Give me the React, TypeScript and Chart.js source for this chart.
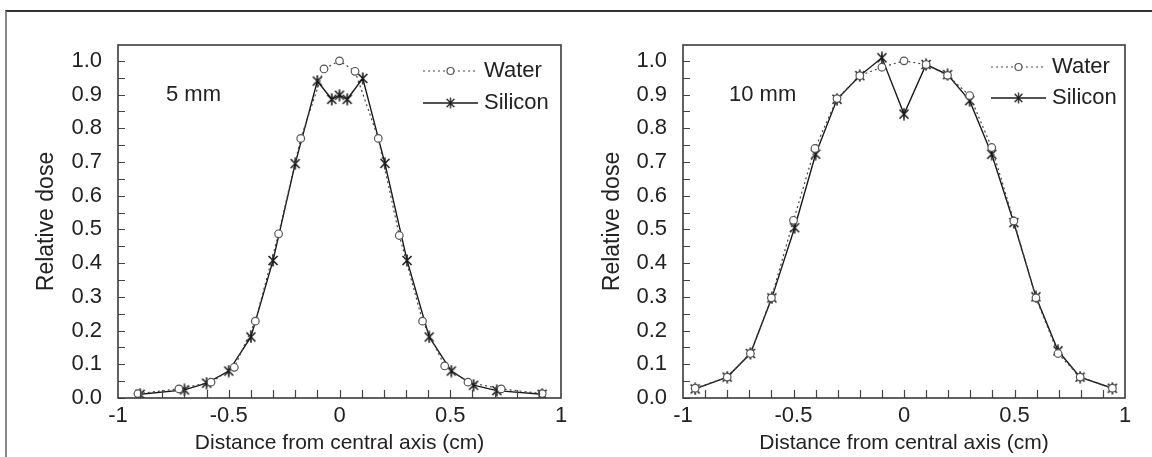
import React, { useEffect, useRef } from "react";
import { Chart, registerables } from "chart.js";

Chart.register(...registerables);

// ---------- data ----------
const seriesNames = ["Water", "Silicon"];
const panelLabels = ["5 mm", "10 mm"];
const xTitle = "Distance from central axis (cm)";
const yTitle = "Relative dose";

const xTickValues = [-1, -0.5, 0, 0.5, 1];
const xTickLabels = ["-1", "-0.5", "0", "0.5", "1"];
const yTickValues = [0, 0.1, 0.2, 0.3, 0.4, 0.5, 0.6, 0.7, 0.8, 0.9, 1.0];
const yTickLabels = ["0.0", "0.1", "0.2", "0.3", "0.4", "0.5", "0.6", "0.7", "0.8", "0.9", "1.0"];

// 5 mm panel
const water5X = [-0.91, -0.725, -0.58, -0.475, -0.38, -0.275, -0.175, -0.07, 0, 0.07, 0.175, 0.27, 0.375, 0.475, 0.58, 0.73, 0.915];
const water5Y = [0.013, 0.027, 0.047, 0.091, 0.228, 0.487, 0.77, 0.976, 1.0, 0.969, 0.77, 0.482, 0.228, 0.095, 0.047, 0.027, 0.013];
const silicon5X = [-0.9, -0.7, -0.6, -0.5, -0.4, -0.3, -0.2, -0.1, -0.035, 0, 0.035, 0.105, 0.205, 0.305, 0.405, 0.505, 0.605, 0.71, 0.915];
const silicon5Y = [0.011, 0.024, 0.044, 0.08, 0.181, 0.408, 0.695, 0.94, 0.886, 0.898, 0.886, 0.948, 0.696, 0.408, 0.181, 0.08, 0.038, 0.022, 0.011];

// 10 mm panel
const water10X = [-0.945, -0.8, -0.695, -0.6, -0.5, -0.403, -0.303, -0.2, -0.1, 0, 0.1, 0.197, 0.297, 0.397, 0.497, 0.597, 0.697, 0.797, 0.943];
const water10Y = [0.029, 0.062, 0.132, 0.297, 0.527, 0.74, 0.888, 0.956, 0.981, 1.0, 0.989, 0.957, 0.897, 0.743, 0.525, 0.297, 0.132, 0.062, 0.029];
const silicon10X = [-0.945, -0.8, -0.695, -0.598, -0.495, -0.4, -0.303, -0.2, -0.1, 0, 0.1, 0.197, 0.297, 0.397, 0.497, 0.597, 0.697, 0.797, 0.943];
const silicon10Y = [0.027, 0.062, 0.132, 0.297, 0.505, 0.723, 0.886, 0.956, 1.009, 0.842, 0.989, 0.959, 0.882, 0.723, 0.52, 0.3, 0.14, 0.062, 0.029];

const X_MIN = -1;
const X_MAX = 1;
const Y_MIN = 0;
const Y_MAX = 1.047;
const X_MINOR_STEP = 0.1;
const Y_MINOR_STEP = 0.05;

// ---------- styling ----------
const FONT = "'Liberation Sans', Arial, Helvetica, sans-serif";
const TEXT = "#222";

function makeAsterisk(): HTMLCanvasElement {
  const c = document.createElement("canvas");
  c.width = 12;
  c.height = 13;
  const g = c.getContext("2d")!;
  g.strokeStyle = "#1a1a1a";
  g.lineWidth = 1.6;
  g.beginPath();
  g.moveTo(1.5, 2);
  g.lineTo(10.5, 11);
  g.moveTo(10.5, 2);
  g.lineTo(1.5, 11);
  g.moveTo(6, 0.5);
  g.lineTo(6, 12.5);
  g.stroke();
  return c;
}

function zip(xs: number[], ys: number[]) {
  return xs.map((x, i) => ({ x, y: ys[i] }));
}

const framePlugin = {
  id: "frameAndDecor",
  afterDraw(chart: any, _args: any, opts: any) {
    const { ctx, chartArea: a, scales } = chart;
    ctx.save();
    // inward minor/major ticks
    ctx.strokeStyle = "#444";
    ctx.lineWidth = 1.2;
    ctx.beginPath();
    const ny = Math.round((1.0 - Y_MIN) / Y_MINOR_STEP);
    for (let i = 0; i <= ny; i++) {
      const v = Y_MIN + i * Y_MINOR_STEP;
      const y = Math.round(scales.y.getPixelForValue(v)) + 0.5;
      ctx.moveTo(a.left, y);
      ctx.lineTo(a.left + 7, y);
    }
    const nx = Math.round((X_MAX - X_MIN) / X_MINOR_STEP);
    for (let i = 1; i < nx; i++) {
      const v = X_MIN + i * X_MINOR_STEP;
      const x = Math.round(scales.x.getPixelForValue(v)) + 0.5;
      ctx.moveTo(x, a.bottom);
      ctx.lineTo(x, a.bottom - 8);
    }
    ctx.stroke();
    // plot frame
    ctx.strokeStyle = "#3a3a3a";
    ctx.lineWidth = 1.6;
    ctx.strokeRect(a.left, a.top, a.right - a.left, a.bottom - a.top);

    // panel label
    ctx.fillStyle = TEXT;
    ctx.font = `22px ${FONT}`;
    ctx.textBaseline = "middle";
    ctx.textAlign = "left";
    ctx.fillText(opts.label, opts.labelX, opts.labelY);

    // legend
    const lx0 = opts.legendX;
    const lx1 = lx0 + 55;
    const lxm = (lx0 + lx1) / 2;
    const r1 = opts.legendY;
    const r2 = opts.legendY + opts.legendGap;
    // water row
    ctx.strokeStyle = "#444";
    ctx.lineWidth = 1.2;
    ctx.setLineDash([2, 3]);
    ctx.beginPath();
    ctx.moveTo(lx0, r1);
    ctx.lineTo(lx1, r1);
    ctx.stroke();
    ctx.setLineDash([]);
    ctx.fillStyle = "#fff";
    ctx.beginPath();
    ctx.arc(lxm, r1, 3.5, 0, Math.PI * 2);
    ctx.fill();
    ctx.strokeStyle = "#555";
    ctx.stroke();
    // silicon row
    ctx.strokeStyle = "#1a1a1a";
    ctx.lineWidth = 1.4;
    ctx.beginPath();
    ctx.moveTo(lx0, r2);
    ctx.lineTo(lx1, r2);
    ctx.stroke();
    ctx.drawImage(opts.marker, lxm - 5, r2 - 6, 10, 12);
    ctx.fillStyle = TEXT;
    ctx.fillText(seriesNames[0], lx1 + 6, r1);
    ctx.fillText(seriesNames[1], lx1 + 6, r2);
    ctx.restore();
  },
};

function buildConfig(
  waterX: number[], waterY: number[], silX: number[], silY: number[],
  yAxisWidth: number, rightPad: number, yTitlePad: number,
  label: string, labelX: number, labelY: number, legendX: number, legendY: number, legendGap: number,
  marker: HTMLCanvasElement
): any {
  return {
    type: "scatter",
    data: {
      datasets: [
        {
          label: seriesNames[0],
          data: zip(waterX, waterY),
          showLine: true,
          borderColor: "#444",
          borderWidth: 1.2,
          borderDash: [2, 3],
          pointStyle: "circle",
          pointRadius: 3.8,
          pointBorderColor: "#555",
          pointBackgroundColor: "#fff",
          pointBorderWidth: 1.2,
          tension: 0,
        },
        {
          label: seriesNames[1],
          data: zip(silX, silY),
          showLine: true,
          borderColor: "#1a1a1a",
          borderWidth: 1.4,
          pointStyle: marker,
          pointRadius: 5,
          tension: 0,
        },
      ],
    },
    options: {
      animation: false,
      responsive: false,
      events: [],
      layout: { padding: { top: 45, right: rightPad, left: 0, bottom: 0 } },
      plugins: {
        legend: { display: false },
        tooltip: { enabled: false },
        frameAndDecor: { label, labelX, labelY, legendX, legendY, legendGap, marker },
      },
      scales: {
        x: {
          type: "linear",
          min: X_MIN,
          max: X_MAX,
          afterBuildTicks: (s: any) => {
            s.ticks = xTickValues.map((v) => ({ value: v }));
          },
          afterFit: (s: any) => {
            s.height = 59;
          },
          grid: { display: false, drawTicks: false },
          border: { display: false },
          ticks: {
            autoSkip: false,
            maxRotation: 0,
            padding: 5,
            color: TEXT,
            font: { size: 22, family: FONT },
            callback: (_v: any, i: number) => xTickLabels[i],
          },
          title: {
            display: true,
            text: xTitle,
            color: TEXT,
            font: { size: 21, family: FONT },
            padding: { top: 0, bottom: 1 },
          },
        },
        y: {
          type: "linear",
          min: Y_MIN,
          max: Y_MAX,
          afterBuildTicks: (s: any) => {
            s.ticks = yTickValues.map((v) => ({ value: v }));
          },
          afterFit: (s: any) => {
            s.width = yAxisWidth;
          },
          grid: { display: false, drawTicks: false },
          border: { display: false },
          ticks: {
            autoSkip: false,
            padding: 16,
            color: TEXT,
            font: { size: 22, family: FONT },
            callback: (_v: any, i: number) => yTickLabels[i],
          },
          title: {
            display: true,
            text: yTitle,
            color: TEXT,
            font: { size: 23, family: FONT },
            padding: { top: yTitlePad, bottom: 0 },
          },
        },
      },
    },
    plugins: [framePlugin],
  };
}

export default function App() {
  const leftRef = useRef<HTMLCanvasElement>(null);
  const rightRef = useRef<HTMLCanvasElement>(null);

  useEffect(() => {
    const marker = makeAsterisk();
    const c1 = new Chart(
      leftRef.current!,
      buildConfig(water5X, water5Y, silicon5X, silicon5Y, 118, 576 - 561, 33,
        panelLabels[0], 166, 95, 423, 71, 32, marker)
    );
    const c2 = new Chart(
      rightRef.current!,
      buildConfig(water10X, water10Y, silicon10X, silicon10Y, 107, 576 - 1125 + 576, 23,
        panelLabels[1], 729 - 576, 95, 991 - 576, 67, 31, marker)
    );
    return () => {
      c1.destroy();
      c2.destroy();
    };
  }, []);

  return (
    <div style={{ position: "fixed", left: 0, top: 0, width: 1152, height: 457, background: "#fff", overflow: "hidden" }}>
      <div style={{ position: "absolute", left: 5, top: 10, width: 1147, height: 447, borderTop: "2px solid #333", borderLeft: "2px solid #888", boxSizing: "border-box" }} />
      <canvas ref={leftRef} width={576} height={457} style={{ position: "absolute", left: 0, top: 0, width: 576, height: 457 }} />
      <canvas ref={rightRef} width={576} height={457} style={{ position: "absolute", left: 576, top: 0, width: 576, height: 457 }} />
    </div>
  );
}
